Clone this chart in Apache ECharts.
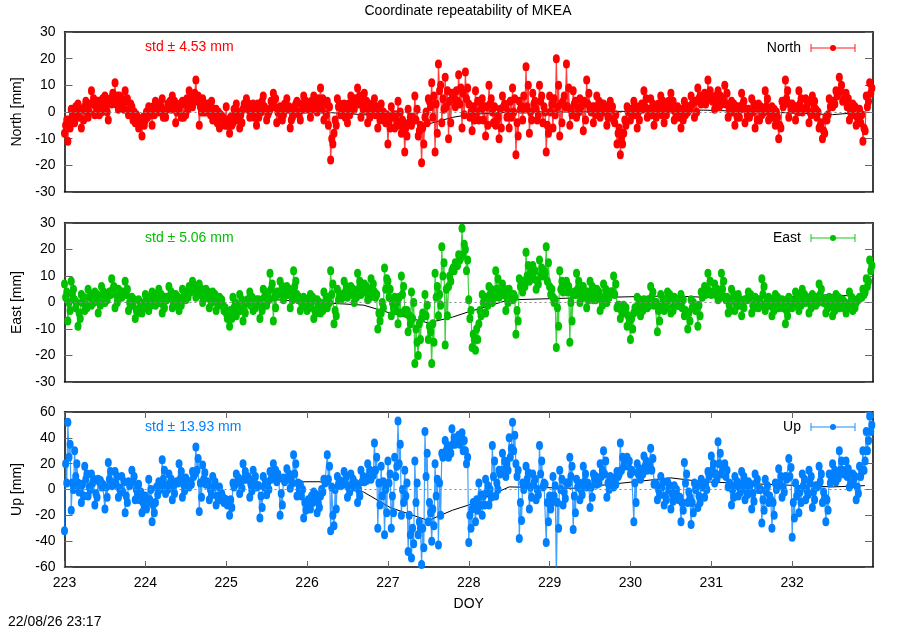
<!DOCTYPE html>
<html>
<head>
<meta charset="utf-8">
<script src="https://cdn.jsdelivr.net/npm/echarts@6/dist/echarts.min.js"></script>
<style>html,body{margin:0;padding:0;background:#fff}#c{width:900px;height:630px}</style>
</head>
<body>
<div id="c"></div>
<script>
// ---- data: three samples per hour (h, h+20min, h+40min), one row per DOY ----
const days = [223, 224, 225, 226, 227, 228, 229, 230, 231, 232];
const samplesPerDay = 24;
const subOffsets = [0, 1 / 3, 2 / 3];
const xTicks = [223, 224, 225, 226, 227, 228, 229, 230, 231, 232];

const northRows = [
  [-8, -11, 1, -4, 3, -6, 2, -2, 8, -1, 4, 0, 6, -3, 3, 11, 1, 5, 8, -1, 2, -4, -6, -9],
  [-3, 2, -5, 4, 0, 5, -2, 3, 6, -4, 1, 4, -1, 8, 2, 12, -5, 5, 0, 3, -3, 1, -6, -2],
  [2, -8, -4, 3, -6, 1, 5, -2, 3, -5, 2, 6, -3, 1, 7, -4, 2, -1, 5, -6, 0, 4, -3, 6],
  [3, -2, 6, 0, 9, -3, 4, -18, -8, 5, -1, 3, -4, 6, 1, 9, -2, 7, -4, 2, 5, -6, 3, -3],
  [-12, 2, -6, 4, -8, -15, 1, -5, 6, -9, -19, -2, 5, 11, -15, 18, -4, 13, -10, 7, 2, 14, -6, 15],
  [3, -7, 8, -3, 5, -9, 10, 0, -5, -10, 6, 2, -6, 9, -16, 4, -3, 17, -8, 7, 1, 10, -4, -15],
  [6, -6, 20, -9, 4, 18, -5, 8, -2, 5, -7, 12, 1, -4, 6, -2, 3, -5, 4, -3, -12, -16, -8, 2],
  [-3, 4, -6, 2, 8, -2, 5, -5, 1, 6, -4, 3, 7, -3, 2, -6, 4, 0, 6, -2, 9, 3, 7, 12],
  [5, 1, 8, 3, 10, -2, 4, -5, 2, 7, -4, 1, 5, -6, 3, -1, 8, -3, 2, -5, -10, 4, 12, -2],
  [3, -3, 8, 0, 5, -4, 6, 1, -6, -10, -2, 5, 2, 8, 13, 4, 7, -3, 3, -5, 1, -11, 6, 11]
];
const northMidRows = [
  [-5, -3, -1, 2, -2, 1, 4, 0, 3, 2, -1, 5, 2, 4, 7, 3, 6, 2, 4, 1, -3, -1, -5, -2],
  [0, -1, 2, 1, 3, -2, 1, 4, 2, 0, 3, -2, 5, 3, 6, 4, 2, 0, 3, -1, 1, -4, -1, -4],
  [-5, -2, 1, -3, -1, 3, 1, 0, -2, 3, 0, 2, -1, 4, 2, 0, -2, 3, 1, -3, 2, 0, 3, 1],
  [1, 4, 2, 5, 1, 3, -5, -10, -3, 2, 0, -2, 3, 1, 5, 3, 4, 1, 0, 3, -1, 0, -2, -4],
  [-4, -2, -1, -5, -3, -6, -4, -2, -3, -7, -6, 0, 4, -2, 3, 8, 5, 2, 4, 6, 8, 3, 7, 5],
  [-2, 2, 0, 4, -3, 2, 3, -4, -3, 1, 2, -2, 4, 0, -4, 1, 6, 2, 0, 3, -3, 4, 2, -5],
  [0, 5, 2, 3, 6, 2, 1, 3, 1, 2, 4, 3, 0, 2, 1, 3, 0, -2, 1, -4, -8, -10, -3, 0],
  [1, -1, 0, 3, 2, 1, -1, 2, 3, -1, 2, 4, 1, 0, -2, 1, -1, 2, 3, 4, 5, 6, 3, 5],
  [4, 6, 2, 5, 3, 1, 0, 2, -2, 3, 1, -2, 0, 2, -3, 1, 2, 0, -2, 0, -5, 2, 5, 3],
  [1, 2, 3, 1, 2, 0, 3, -2, -5, -7, -3, 2, 4, 6, 8, 5, 2, 0, -1, -2, -4, -6, 2, 7]
];
const northLateRows = [
  [-3, -6, -2, 0, 1, -3, 0, 3, 5, 1, 2, 3, 0, 5, 4, 6, 3, 1, 5, 3, 0, -2, -3, -5],
  [-2, 1, -1, 3, 2, 0, 3, 1, 4, 2, -2, 3, 1, 5, 7, 6, 0, 2, 1, 4, -2, 0, -3, -5],
  [-3, -5, -1, 0, -4, 2, 3, -1, 1, -2, 4, 1, 0, 2, 5, 1, -3, 1, 2, -2, 3, -1, 1, 4],
  [2, 1, 4, 3, 5, -1, 2, -12, -5, 3, 1, 0, -1, 4, 3, 6, 1, 4, -2, 1, 2, -3, 0, -1],
  [-6, -1, -4, 0, -5, -9, -2, -3, 1, -5, -12, -4, 2, 6, -8, 10, 1, 8, -4, 5, 4, 9, -1, 9],
  [0, -3, 4, 1, 2, -5, 5, 2, -2, -6, 3, 0, -2, 5, -9, 2, 1, 10, -3, 4, -1, 6, 0, -8],
  [3, -1, 10, -4, 2, 9, -1, 4, 0, 3, -3, 7, 2, -1, 4, 0, 2, -2, 2, -1, -6, -12, -5, 1],
  [-1, 2, -3, 1, 5, 0, 3, -2, 2, 4, -1, 2, 4, -1, 0, -3, 2, 1, 4, 0, 6, 4, 5, 8],
  [5, 3, 6, 4, 7, 0, 3, -2, 1, 4, -1, 0, 3, -3, 2, 0, 5, -1, 1, -2, -6, 3, 8, 1],
  [2, 0, 5, 1, 4, -1, 4, 0, -4, -8, -1, 4, 3, 7, 10, 5, 5, -1, 2, -3, -1, -7, 4, 9]
];
const eastRows = [
  [7, -7, 8, 1, -9, 3, -3, 5, -1, 4, -4, 6, 0, 3, 9, -2, 5, 2, 8, -3, 2, -6, 1, -4],
  [3, -3, 4, -1, 5, -4, 2, 6, -2, 3, -3, 5, 1, 6, 8, 2, 7, 0, 5, -2, 4, -3, 2, -1],
  [-4, -9, 2, -5, 3, -7, 0, 4, -3, 1, -6, 5, -1, 11, -7, 4, 8, 1, 6, -2, 12, 3, -3, 2],
  [-3, 3, -6, 1, -4, 4, -2, 12, -8, 5, 1, 8, 2, 6, 0, 11, 3, 7, 1, 9, 4, -10, -4, 13],
  [8, -5, 2, -8, 10, -3, -11, 4, -23, -20, -6, 3, -14, -23, 11, -5, 21, -16, 6, 12, 15, 18, 28, 20],
  [1, -17, -18, -8, 3, -4, 6, 0, 12, 2, 7, -3, 5, 1, -12, 9, 4, 19, 8, 14, 5, 16, 10, 21],
  [6, 2, -17, 12, 4, 8, -15, 3, 11, 0, 6, -2, 8, 1, 5, -3, 7, 0, 4, 10, -2, -6, -1, -9],
  [-14, -4, 2, -5, 1, -2, 6, -1, -11, 3, -3, 4, -4, 2, -1, 3, -5, -10, 1, -2, -9, 4, 6, 11],
  [3, 7, 1, 11, 2, -4, 5, -3, 3, -5, 1, 4, -4, 2, -2, 9, -3, 2, -5, 3, -2, 1, -8, 2],
  [-2, 4, -3, 5, 0, -4, 3, -1, 7, 1, -4, 2, -5, 3, -2, 1, -4, 4, -3, 0, 2, 5, 9, 16]
];
const eastMidRows = [
  [2, 0, 3, -2, -4, 0, -1, 2, 1, 2, 0, 3, 2, 4, 5, 3, 2, 4, 3, 0, -1, -3, -2, -1],
  [1, 0, 2, 1, 0, -1, 1, 2, 0, 1, 0, 2, 3, 4, 5, 4, 3, 4, 2, 1, 2, 0, 1, -3],
  [-6, -3, -2, -1, -3, -2, 1, -1, -2, 0, -1, 2, 3, 5, 2, 3, 4, 5, 3, 4, 6, 1, 0, -1],
  [-1, 0, -3, -1, -2, 0, 2, 3, -3, 1, 3, 4, 5, 3, 4, 5, 6, 4, 3, 5, 2, -4, 0, 5],
  [2, 0, -3, 2, 3, -4, -5, -6, -10, -8, -4, -5, -9, -8, 2, 3, 10, 5, 10, 13, 14, 16, 18, 12],
  [-6, -12, -10, -3, 0, 2, 3, 4, 5, 4, 3, 2, 1, 3, -3, 6, 8, 10, 11, 9, 8, 10, 12, 8],
  [3, 0, -2, 5, 6, 4, 0, 4, 5, 3, 2, 4, 3, 2, 3, 1, 2, 3, 4, 3, -1, -3, -4, -5],
  [-6, -2, -1, -2, -1, 1, 2, 0, -3, -1, 0, 1, -2, 0, -1, -2, -3, -4, -2, -3, -1, 2, 3, 4],
  [4, 3, 2, 5, 1, -1, 1, 0, -1, 0, 1, 2, -1, 0, 1, 3, 0, -1, -2, 0, -1, -2, -3, 0],
  [0, 1, 2, 1, 2, 0, 1, 2, 3, 0, -1, 0, -2, 0, -1, -2, -1, 0, -1, 1, 2, 3, 6, 12]
];
const eastLateRows = [
  [4, -3, 5, 0, -6, 2, -2, 3, 0, 3, -1, 4, 1, 3, 6, 0, 4, 3, 5, -1, 1, -4, 0, -2],
  [2, -1, 3, 0, 3, -2, 2, 4, -1, 2, -1, 4, 2, 5, 6, 3, 5, 2, 4, 0, 3, -1, 1, -2],
  [-5, -6, 0, -3, 1, -4, 1, 2, -2, 1, -3, 4, 1, 7, -2, 4, 6, 3, 5, 1, 8, 2, -1, 1],
  [-2, 2, -4, 0, -3, 2, 0, 7, -5, 3, 2, 6, 4, 5, 2, 8, 4, 6, 2, 7, 3, -7, -2, 9],
  [5, -2, 0, -4, 6, -3, -8, 0, -15, -14, -5, -1, -11, -15, 6, -1, 15, -5, 8, 12, 14, 17, 22, 16],
  [-3, -14, -14, -5, 2, -1, 5, 2, 9, 3, 5, 0, 3, 2, -7, 8, 6, 14, 10, 12, 7, 13, 11, 15],
  [5, 1, -9, 8, 5, 6, -7, 3, 8, 2, 4, 1, 6, 1, 4, -1, 5, 2, 4, 7, -1, -4, -2, -7],
  [-10, -3, 1, -3, 0, -1, 4, 0, -7, 1, -2, 3, -3, 1, -1, 1, -4, -7, 0, -2, -5, 3, 5, 8],
  [4, 5, 2, 8, 2, -3, 3, -1, 1, -2, 1, 3, -2, 1, -1, 6, -1, 1, -3, 2, -1, 0, -5, 1],
  [-1, 3, -1, 3, 1, -2, 2, 0, 5, 1, -2, 1, -3, 2, -1, 0, -2, 2, -2, 1, 2, 4, 8, 14]
];
const upRows = [
  [-32, 52, -16, 30, 5, -10, 18, -5, 12, -12, 8, 2, -15, 21, 3, 14, -6, 10, -18, 6, 15, -8, 4, -18],
  [-5, 8, -25, -10, 6, 23, -3, 12, -8, 5, 20, -6, 9, 2, 14, 33, -17, 19, 4, -8, 10, -12, 2, -6],
  [-8, -20, 5, 12, -3, 20, 8, -6, 15, 2, -22, 10, -4, 14, 20, 6, -20, 9, 16, 1, 27, -5, 4, -22],
  [-10, -15, -2, -18, -5, 8, 27, -32, -28, 10, 3, 14, -6, 12, 2, -10, 15, 6, 20, 8, 36, -30, 18, -35],
  [22, -30, 25, 53, -20, 15, -48, -53, 22, -35, -58, 45, -25, -40, 20, -43, 28, 38, 25, 47, 35, 42, 44, 30],
  [-41, -15, -25, 5, -20, 8, -12, 34, -5, 15, 28, 10, 40, 52, 20, -38, 5, 18, -15, 12, -8, 34, 2, -41],
  [-5, 10, -68, 15, -12, 5, 25, -31, 8, -8, 18, 2, -14, 12, 4, 20, 30, -6, 10, 2, 14, 36, 18, 25],
  [12, -25, 20, 8, 26, 15, 32, 4, -8, 10, -12, 6, -15, 3, -5, -25, 21, -10, -27, 5, -14, 8, -6, 14],
  [26, 5, 37, 12, 20, 2, -12, 10, -5, 14, -8, 6, -15, 12, 0, -26, 8, -10, -30, 5, 16, -6, 10, 24],
  [-37, 5, -18, 12, -8, 15, -14, 3, 18, -10, -25, 12, 20, 6, 30, 15, 22, 2, 12, -8, 18, 30, 45, 57]
];
const upMidRows = [
  [20, 25, 5, 10, -2, 4, 8, 2, 5, -3, 6, 4, 2, 8, 5, 4, 1, -2, -5, 3, 6, 0, -8, -10],
  [-15, -8, -12, 2, 0, 8, 3, 5, 2, 6, 8, 4, 3, 6, 10, 15, 5, 8, 6, 0, 2, -5, -8, -10],
  [-12, -8, 2, 6, 5, 8, 10, 4, 6, 3, -5, 2, 5, 8, 10, 12, -3, 6, 8, 10, 12, 5, -5, -10],
  [-8, -5, -6, -10, 0, 5, 8, 2, 0, 4, 5, 6, 2, 4, 5, 0, 6, 8, 10, 14, 15, 5, -5, 0],
  [5, -5, 10, 20, 0, -5, -20, -30, -10, -25, -30, 10, -10, -15, -5, 5, 25, 30, 32, 35, 38, 35, 30, 20],
  [-20, -10, -8, -12, -5, -2, 0, 10, 5, 12, 15, 20, 25, 30, 10, -10, 0, 8, 2, 5, 0, 12, 5, -10],
  [-15, -5, -10, 0, -2, 5, 10, -5, 2, 0, 6, 5, 2, 8, 5, 10, 12, 5, 8, 6, 10, 15, 20, 18],
  [15, 5, 12, 15, 18, 20, 15, 5, 0, 2, -5, 0, -3, -2, -8, -10, 5, -2, -10, 0, -5, 2, 5, 10],
  [15, 12, 20, 15, 10, 5, 0, 3, 2, 5, 0, 2, -3, 5, 0, -8, -2, -5, -10, 0, 5, 2, 8, 10],
  [-10, -5, -2, 3, 0, 5, -2, 2, 6, -2, -8, 5, 10, 12, 15, 12, 10, 5, 8, 2, 10, 15, 30, 45]
];
const upLateRows = [
  [5, 35, 0, 20, 2, -5, 12, 0, 8, -6, 7, 3, -6, 14, 4, 10, -2, 6, -10, 5, 10, -3, -2, -14],
  [-10, 0, -18, -4, 3, 15, 0, 8, -3, 5, 14, -1, 6, 4, 12, 24, -6, 13, 5, -4, 6, -8, -3, -8],
  [-10, -14, 4, 9, 1, 14, 9, -1, 10, 3, -14, 6, 0, 11, 15, 9, -12, 8, 12, 5, 20, 0, 0, -16],
  [-9, -10, -4, -14, -2, 6, 18, -20, -15, 7, 4, 10, -2, 8, 4, -5, 10, 7, 15, 11, 25, -12, 6, -18],
  [12, -18, 18, 35, -10, 5, -35, -42, 5, -30, -45, 28, -18, -28, 8, -20, 26, 34, 28, 40, 36, 38, 38, 25],
  [-30, -12, -16, -4, -12, 3, -6, 22, 0, 14, 22, 15, 32, 42, 15, -24, 3, 13, -6, 8, -4, 22, 4, -25],
  [-10, 3, -30, 8, -7, 5, 18, -18, 5, -4, 12, 3, -6, 10, 5, 15, 22, 0, 9, 4, 12, 25, 19, 22],
  [14, -10, 16, 12, 22, 18, 24, 4, -4, 6, -8, 3, -9, 0, -6, -16, 12, -6, -18, 3, -10, 5, 0, 12],
  [20, 8, 28, 14, 15, 4, -6, 6, -2, 10, -4, 4, -9, 8, 0, -16, 3, -8, -20, 3, 10, -2, 9, 17],
  [-22, 0, -10, 8, -4, 10, -8, 3, 12, -6, -16, 8, 15, 9, 22, 14, 16, 4, 10, -3, 14, 22, 38, 50]
];
// sparse black reference track
const refTimes = [225.63, 226.16, 226.7, 227.03, 227.5, 227.8, 228.0, 228.5, 229.3, 230.5, 230.9, 231.7, 232.5, 232.9];
const refNorth = [0, 0, -1, -2, -4.5, -2, -1, 0, 0, 0.5, 0.7, 0, -1, 0];
const refEast = [1, 0, -1, -4, -7.7, -5.5, -3.5, 1, 1.7, 2.5, 2, 1.7, 3, 2];
const refUp = [6, 6, -2, -14, -24, -16, -12, 2, 1, 9, 6, 4, 2, 3];

const components = ['North', 'East', 'Up'];
const stdValues = ['4.53', '5.06', '13.93'];
const yRanges = [[-30, 30, 10], [-30, 30, 10], [-60, 60, 20]];
const colors = ['#ff0000', '#00c000', '#0080ff'];

// ---- build ----
function toSeries(sets) {
  const out = [];
  sets[0].forEach((row, d) => row.forEach((v, h) => {
    sets.forEach((s, k) => out.push([days[d] + (h + subOffsets[k]) / samplesPerDay, s[d][h]]));
  }));
  return out;
}
const seriesData = [
  toSeries([northRows, northMidRows, northLateRows]),
  toSeries([eastRows, eastMidRows, eastLateRows]),
  toSeries([upRows, upMidRows, upLateRows])
];
const refData = [refNorth, refEast, refUp].map(a => a.map((v, i) => [refTimes[i], v]));

const FONT = 'Liberation Sans, Arial, sans-serif';
const grids = [
  {left: 64.5, right: 27, top: 32, height: 160},
  {left: 64.5, right: 27, top: 223, height: 159},
  {left: 64.5, right: 27, top: 412, height: 155}
];
const borderLine = {show: true, onZero: false, lineStyle: {color: '#000', width: 1.5}};

const xAxes = [], yAxes = [], series = [], graphics = [];
grids.forEach((g, i) => {
  const isBottom = i === 2;
  const base = {type: 'value', gridIndex: i, min: 223, max: 233, interval: 1, splitLine: {show: false}, axisLine: borderLine};
  xAxes.push(Object.assign({}, base, {
    position: 'bottom',
    axisTick: {show: isBottom, inside: true, length: 6, lineStyle: {color: '#666'}},
    axisLabel: {show: isBottom, showMaxLabel: false, color: '#000', fontSize: 14, fontFamily: FONT, margin: 9,
      formatter: v => xTicks.indexOf(v) >= 0 ? String(v) : ''},
    name: isBottom ? 'DOY' : '', nameLocation: 'middle', nameGap: 30,
    nameTextStyle: {color: '#000', fontSize: 14, fontFamily: FONT}
  }));
  xAxes.push(Object.assign({}, base, {
    position: 'top',
    axisTick: {show: isBottom, inside: true, length: 6, lineStyle: {color: '#666'}},
    axisLabel: {show: false}
  }));
  const [mn, mx, iv] = yRanges[i];
  const ybase = {type: 'value', gridIndex: i, min: mn, max: mx, interval: iv, splitLine: {show: false}, axisLine: borderLine,
    axisTick: {show: true, inside: true, length: 8, lineStyle: {color: '#666'}}};
  yAxes.push(Object.assign({}, ybase, {
    position: 'left',
    axisLabel: {color: '#000', fontSize: 14, fontFamily: FONT, margin: 9},
    name: components[i] + ' [mm]', nameLocation: 'middle', nameGap: 40,
    nameTextStyle: {color: '#000', fontSize: 14, fontFamily: FONT}
  }));
  yAxes.push(Object.assign({}, ybase, {position: 'right', axisLabel: {show: false}}));

  series.push({
    type: 'line', xAxisIndex: 2 * i, yAxisIndex: 2 * i, data: refData[i], z: 1,
    symbol: 'none', lineStyle: {color: '#000', width: 1}, clip: true, silent: true,
    markLine: {silent: true, symbol: 'none', label: {show: false},
      lineStyle: {color: '#888', type: [2, 3], width: 1}, data: [{yAxis: 0}]}
  });
  series.push({
    type: 'line', xAxisIndex: 2 * i, yAxisIndex: 2 * i, data: seriesData[i], z: 3,
    symbol: 'circle', symbolSize: [7, 9], showAllSymbol: true, clip: true,
    itemStyle: {color: colors[i]},
    lineStyle: {color: colors[i], width: 1.2, opacity: 0.75}
  });

  const cy = [48, 239, 428][i];
  graphics.push({type: 'text', left: 145, top: cy - 8,
    style: {text: 'std \u00b1 ' + stdValues[i] + ' mm', fill: colors[i], font: '14px ' + FONT}});
  const ly = [48, 238, 427][i];
  graphics.push({type: 'text', x: 801, y: ly,
    style: {text: components[i], fill: '#000', font: '14px ' + FONT, textAlign: 'right', textVerticalAlign: 'middle'}});
  graphics.push({type: 'line', shape: {x1: 811, y1: ly, x2: 855, y2: ly}, style: {stroke: colors[i], lineWidth: 1.5, opacity: 0.6}});
  graphics.push({type: 'line', shape: {x1: 811, y1: ly - 4, x2: 811, y2: ly + 4}, style: {stroke: colors[i], lineWidth: 1.5, opacity: 0.6}});
  graphics.push({type: 'line', shape: {x1: 855, y1: ly - 4, x2: 855, y2: ly + 4}, style: {stroke: colors[i], lineWidth: 1.5, opacity: 0.6}});
  graphics.push({type: 'circle', shape: {cx: 833, cy: ly, r: 3}, style: {fill: colors[i]}});
});

graphics.push({type: 'text', x: 468, y: 11,
  style: {text: 'Coordinate repeatability of MKEA', fill: '#000', font: '14px ' + FONT, textAlign: 'center', textVerticalAlign: 'middle'}});
graphics.push({type: 'text', x: 8, y: 622,
  style: {text: '22/08/26 23:17', fill: '#000', font: '14px ' + FONT, textAlign: 'left', textVerticalAlign: 'middle'}});

const chart = echarts.init(document.getElementById('c'), null, {renderer: 'canvas'});
chart.setOption({
  animation: false,
  backgroundColor: '#fff',
  grid: grids,
  xAxis: xAxes,
  yAxis: yAxes,
  series: series,
  graphic: graphics
});
</script>
</body>
</html>
